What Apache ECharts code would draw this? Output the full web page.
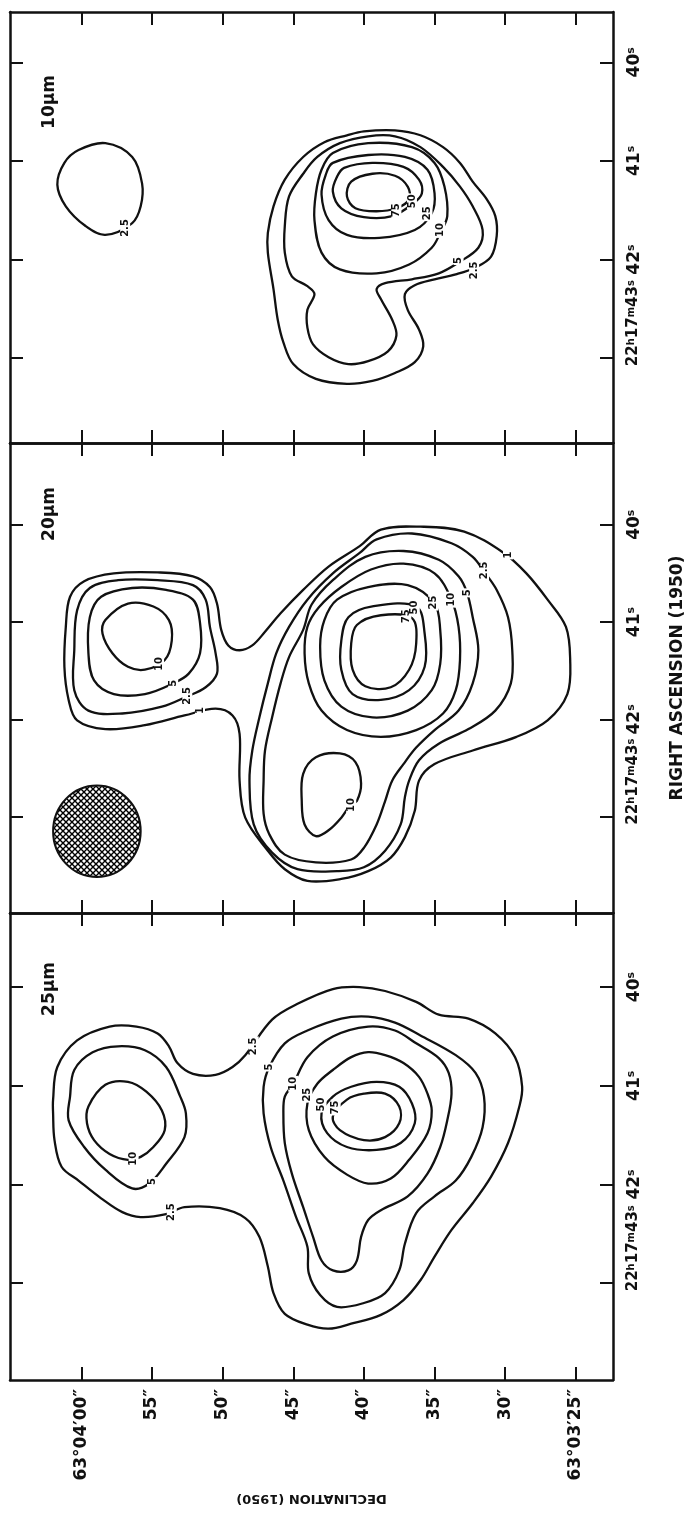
<!DOCTYPE html>
<html><head><meta charset="utf-8">
<script src="https://cdn.jsdelivr.net/npm/echarts@6/dist/echarts.min.js"></script>
<style>html,body{margin:0;padding:0;background:#fff}#c{width:689px;height:1514px}</style>
</head><body><div id="c"></div>
<script>
// ---------- axes / tick labels ----------
const decTicks = [25, 30, 35, 40, 45, 50, 55, 60];               // arcsec of 63°03'xx"
const decTickLabels = ['63°03′25″', '30″', '35″', '40″', '45″', '50″', '55″', '63°04′00″'];
const raTicks = [40, 41, 42, 43];                                 // seconds of 22h17m
const raTickLabels = ['40s', '41s', '42s', '22h17m43s'];
const panelNames = ['10μm', '20μm', '25μm'];
const decRange = [22.37, 65.05];
const raRanges = [[39.49, 43.86], [39.16, 43.99], [39.25, 43.98]];

// ---------- 10 μm contours [dec", RA s] ----------
const t_ring25 = [[58.3,40.82],[56.4,40.96],[55.7,41.23],[55.8,41.46],[56.4,41.63],[58.3,41.75],[59.7,41.66],[61.1,41.46],[61.7,41.24],[61.2,41.02],[60.2,40.89]];
const t_c25 = [[40.0,40.70],[37.8,40.69],[36.0,40.74],[34.4,40.86],[33.2,41.02],[32.3,41.21],[31.3,41.39],[30.7,41.56],[30.6,41.76],[31.0,41.97],[32.1,42.08],[33.5,42.15],[35.0,42.20],[36.4,42.26],[37.1,42.35],[36.9,42.51],[36.1,42.71],[35.8,42.88],[36.4,43.04],[37.8,43.15],[39.4,43.23],[41.2,43.26],[43.4,43.21],[45.0,43.06],[45.7,42.84],[46.1,42.61],[46.4,42.30],[46.8,41.93],[46.8,41.73],[46.4,41.46],[45.6,41.19],[44.3,40.96],[42.8,40.81],[41.2,40.74]];
const t_c5 = [[39.7,40.75],[37.8,40.75],[36.0,40.86],[34.4,41.06],[33.2,41.26],[32.3,41.46],[31.6,41.70],[31.9,41.88],[33.3,42.03],[34.7,42.14],[36.6,42.20],[38.5,42.24],[39.1,42.30],[38.8,42.40],[38.0,42.61],[37.7,42.77],[38.3,42.93],[39.7,43.03],[41.1,43.06],[42.5,42.99],[43.6,42.86],[44.0,42.69],[44.0,42.51],[43.5,42.35],[44.0,42.27],[45.1,42.17],[45.6,41.93],[45.6,41.66],[45.3,41.36],[44.3,41.13],[43.3,40.96],[41.7,40.82]];
const t_c10 = [[42.2,40.92],[39.7,40.82],[36.6,40.86],[35.0,41.02],[34.3,41.26],[34.1,41.56],[34.6,41.73],[35.2,41.88],[36.8,42.05],[39.1,42.14],[41.7,42.10],[43.0,41.93],[43.5,41.60],[43.4,41.33],[43.0,41.09]];
const t_c25b = [[42.2,41.02],[39.7,40.94],[37.1,40.96],[35.5,41.09],[35.0,41.33],[35.2,41.53],[36.4,41.70],[38.9,41.78],[41.2,41.75],[42.5,41.60],[43.0,41.34],[42.7,41.14]];
const t_c50 = [[41.4,41.07],[39.4,41.02],[37.2,41.06],[36.1,41.19],[35.9,41.33],[36.5,41.43],[38.0,41.56],[40.0,41.57],[41.6,41.48],[42.2,41.31],[41.9,41.16]];
const t_c75 = [[40.9,41.21],[39.4,41.13],[37.8,41.15],[36.9,41.26],[36.8,41.39],[37.7,41.48],[39.1,41.51],[40.6,41.48],[41.2,41.36]];
const t_labels = [['75',37.7,41.50],['50',36.6,41.41],['25',35.5,41.53],['10',34.6,41.70],['5',33.3,42.01],['2.5',32.2,42.11],['2.5',56.9,41.68]];

// ---------- 20 μm contours ----------
const m_c1 = [[50.5,41.89],[49.3,41.96],[48.8,42.15],[48.8,42.63],[48.4,43.01],[46.8,43.35],[45.6,43.54],[44.0,43.66],[41.6,43.64],[39.7,43.56],[38.1,43.42],[37.1,43.21],[36.4,42.94],[36.1,42.63],[35.0,42.46],[32.3,42.32],[29.2,42.18],[27.0,42.01],[25.6,41.74],[25.4,41.39],[25.7,41.05],[27.0,40.77],[28.5,40.50],[30.1,40.29],[32.9,40.07],[36.0,40.02],[38.8,40.05],[40.3,40.22],[42.5,40.43],[44.3,40.67],[45.9,40.91],[47.0,41.10],[47.9,41.24],[48.8,41.29],[49.6,41.24],[50.1,41.08],[50.4,40.81],[50.9,40.64],[52.1,40.53],[54.6,40.49],[57.7,40.50],[59.8,40.58],[60.8,40.74],[61.1,41.05],[61.2,41.46],[60.9,41.80],[60.3,42.01],[58.3,42.10],[55.5,42.06],[52.7,41.96]];
const m_c25 = [[31.5,40.48],[30.6,40.67],[29.8,40.95],[29.5,41.29],[29.6,41.63],[30.7,41.91],[32.6,42.10],[34.7,42.25],[36.1,42.42],[36.8,42.63],[37.1,42.80],[37.4,43.08],[38.5,43.35],[40.0,43.52],[41.9,43.56],[44.7,43.54],[46.5,43.37],[47.8,43.08],[48.1,42.63],[47.9,42.32],[47.4,41.98],[46.8,41.63],[46.2,41.32],[45.3,41.05],[44.0,40.77],[42.2,40.50],[40.3,40.29],[39.1,40.15],[36.6,40.09],[33.8,40.19],[32.3,40.33]];
const m_c5 = [[32.7,40.70],[32.3,40.95],[31.9,41.29],[32.3,41.63],[33.3,41.91],[35.0,42.11],[36.3,42.29],[37.2,42.46],[38.0,42.63],[38.5,42.84],[39.1,43.08],[40.0,43.32],[40.9,43.44],[43.4,43.47],[45.6,43.39],[46.7,43.18],[47.1,42.97],[47.1,42.63],[47.0,42.32],[46.5,41.98],[45.9,41.63],[45.3,41.36],[44.3,41.08],[43.7,40.82],[42.2,40.57],[39.9,40.33],[37.2,40.27],[34.7,40.36],[33.3,40.53]];
const m_c10 = [[33.8,40.77],[33.3,41.05],[33.2,41.39],[33.5,41.70],[34.4,41.94],[36.3,42.11],[38.8,42.18],[41.2,42.11],[43.0,41.91],[43.9,41.63],[44.2,41.32],[44.0,41.05],[43.2,40.85],[41.6,40.64],[39.5,40.46],[37.2,40.40],[35.0,40.50]];
const m_c25b = [[35.0,40.81],[34.6,41.08],[34.6,41.43],[35.2,41.70],[36.9,41.91],[39.4,41.98],[41.6,41.87],[42.8,41.60],[43.1,41.25],[42.8,40.98],[41.9,40.77],[39.7,40.64],[36.9,40.62]];
const m_c50 = [[36.3,40.84],[35.7,41.12],[35.7,41.46],[36.8,41.70],[38.8,41.80],[40.8,41.74],[41.6,41.49],[41.6,41.19],[41.1,40.95],[39.4,40.84]];
const m_c75 = [[36.6,40.96],[36.3,41.22],[36.8,41.49],[38.1,41.67],[39.9,41.66],[40.8,41.49],[40.9,41.22],[40.5,41.03],[38.8,40.93]];
const mu_c25 = [[57.4,40.57],[54.6,40.57],[52.1,40.62],[51.2,40.77],[50.9,41.05],[50.5,41.32],[50.4,41.53],[51.2,41.67],[52.6,41.77],[54.3,41.87],[57.1,41.94],[59.5,41.91],[60.5,41.70],[60.5,41.29],[60.3,40.88],[59.4,40.65]];
const mu_c5 = [[56.4,40.65],[54.0,40.67],[52.1,40.77],[51.6,41.01],[51.6,41.32],[52.4,41.53],[53.5,41.63],[55.5,41.74],[57.7,41.74],[59.1,41.60],[59.5,41.32],[59.4,40.95],[58.6,40.74]];
const mu_c10 = [[58.3,40.98],[56.7,40.81],[54.9,40.84],[53.8,40.98],[53.6,41.19],[54.1,41.39],[55.5,41.49],[56.7,41.46],[57.8,41.32],[58.5,41.12]];
const ms_c10 = [[43.4,42.39],[41.7,42.35],[40.6,42.44],[40.2,42.66],[40.5,42.84],[40.9,42.87],[41.6,43.01],[42.5,43.14],[43.4,43.20],[44.2,43.08],[44.4,42.84],[44.3,42.56]];
const m_labels = [['75',37.0,40.94],['50',36.4,40.85],['25',35.1,40.80],['10',33.8,40.77],['5',32.7,40.70],['2.5',31.5,40.47],['1',29.8,40.31],['10',54.5,41.43],['5',53.5,41.63],['2.5',52.5,41.76],['1',51.6,41.91],['10',40.9,42.88]];
const beam = [58.9, 43.15, 3.1, 0.47];   // centre dec, centre RA, half-width dec, half-height RA

// ---------- 25 μm contours ----------
const b_c25 = [[62.0,41.14],[61.7,40.81],[60.3,40.54],[58.0,40.40],[56.1,40.40],[54.6,40.47],[53.8,40.60],[53.2,40.77],[52.1,40.88],[50.5,40.89],[49.3,40.81],[48.4,40.69],[46.5,40.33],[44.7,40.17],[42.2,40.02],[40.3,40.00],[38.5,40.04],[36.3,40.15],[34.7,40.28],[32.6,40.32],[30.7,40.47],[29.3,40.71],[28.8,41.01],[29.0,41.21],[29.8,41.58],[31.0,41.92],[32.3,42.19],[33.8,42.46],[35.0,42.73],[36.0,42.97],[37.2,43.17],[38.8,43.32],[40.9,43.41],[42.5,43.46],[44.0,43.42],[45.6,43.31],[46.4,43.10],[46.8,42.83],[47.4,42.53],[48.4,42.34],[50.2,42.24],[52.7,42.23],[54.0,42.30],[55.8,42.33],[57.1,42.28],[58.6,42.14],[60.2,41.96],[61.4,41.82],[61.9,41.55],[62.0,41.28]];
const b_c5 = [[46.7,40.81],[45.6,40.57],[44.0,40.44],[41.6,40.32],[39.7,40.30],[37.8,40.36],[36.0,40.49],[33.5,40.69],[32.1,40.87],[31.5,41.11],[31.6,41.42],[32.4,41.72],[33.5,41.96],[35.0,42.12],[36.3,42.29],[37.1,42.60],[37.5,42.87],[38.5,43.10],[40.0,43.20],[41.9,43.24],[43.1,43.12],[43.9,42.90],[44.0,42.63],[44.8,42.33],[45.7,41.96],[46.6,41.62],[47.1,41.28],[47.1,41.01]];
const b_c10 = [[45.0,40.98],[44.0,40.71],[42.2,40.50],[39.7,40.40],[37.8,40.44],[36.3,40.57],[34.7,40.72],[34.0,40.87],[33.8,41.08],[34.1,41.35],[34.6,41.62],[35.5,41.89],[36.9,42.12],[38.8,42.26],[39.7,42.36],[40.2,42.53],[40.5,42.77],[41.1,42.87],[42.2,42.87],[43.0,42.77],[43.6,42.53],[44.3,42.23],[45.1,41.89],[45.6,41.58],[45.7,41.28],[45.6,41.11]];
const b_c25b = [[43.3,40.98],[42.2,40.84],[40.9,40.71],[39.7,40.66],[38.5,40.69],[37.2,40.77],[36.1,40.91],[35.5,41.08],[35.2,41.25],[35.5,41.48],[36.8,41.75],[38.1,41.94],[39.7,41.99],[41.2,41.90],[42.8,41.72],[43.9,41.45],[44.0,41.18]];
const b_c50 = [[42.2,41.11],[40.9,41.01],[39.1,40.96],[37.5,41.01],[36.6,41.18],[36.4,41.38],[37.4,41.58],[39.1,41.65],[41.2,41.62],[42.6,41.48],[43.0,41.28]];
const b_c75 = [[41.2,41.14],[40.0,41.08],[38.5,41.08],[37.5,41.21],[37.5,41.38],[38.5,41.52],[40.0,41.55],[41.7,41.45],[42.2,41.31]];
const bu_c10 = [[59.5,41.21],[58.3,40.99],[56.7,40.96],[55.4,41.06],[54.3,41.25],[54.1,41.45],[54.9,41.62],[55.8,41.72],[56.7,41.75],[58.0,41.69],[59.1,41.55],[59.6,41.38]];
const bu_c5 = [[60.8,41.11],[60.9,41.35],[59.8,41.62],[58.3,41.85],[56.4,42.04],[55.2,41.99],[54.0,41.79],[52.7,41.52],[52.6,41.28],[53.0,41.11],[54.0,40.81],[55.5,40.64],[57.4,40.60],[59.2,40.66],[60.5,40.84]];
const b_labels = [['2.5',47.8,40.60],['5',46.7,40.81],['10',45.0,40.98],['25',44.0,41.09],['50',43.0,41.19],['75',42.0,41.22],['10',56.3,41.74],['5',55.0,41.97],['2.5',53.6,42.28]];

const panelContours = [
  [t_ring25, t_c25, t_c5, t_c10, t_c25b, t_c50, t_c75],
  [m_c1, m_c25, m_c5, m_c10, m_c25b, m_c50, m_c75, mu_c25, mu_c5, mu_c10, ms_c10],
  [b_c25, b_c5, b_c10, b_c25b, b_c50, b_c75, bu_c10, bu_c5]
];
const panelLabels = [t_labels, m_labels, b_labels];

// ---------- build ----------
const FONT = '"DejaVu Sans", sans-serif';
const INK = '#111';
const grids = [
  {left: 10, top: 12, width: 603, height: 431},
  {left: 10, top: 443, width: 603, height: 470},
  {left: 10, top: 913, width: 603, height: 467}
].map(g => Object.assign(g, {containLabel: false, outerBoundsMode: 'none'}));

function hatchCanvas() {
  const c = document.createElement('canvas'); c.width = 6; c.height = 6;
  const x = c.getContext('2d');
  x.fillStyle = '#fff'; x.fillRect(0, 0, 6, 6);
  x.strokeStyle = '#000'; x.lineWidth = 1.4;
  x.beginPath(); x.moveTo(-1, -1); x.lineTo(7, 7); x.moveTo(7, -1); x.lineTo(-1, 7); x.stroke();
  return c;
}
const hatch = hatchCanvas();

function raRich(i, nTag, sTag) {
  return raTickLabels[i].replace(/(\d+)|([hms])/g, (m, d, l) => d ? '{' + nTag + '|' + d + '}' : '{' + sTag + '|' + l + '}');
}
function raFmtMain(v) {
  const i = raTicks.indexOf(Math.round(v));
  return (i < 0 || i === raTicks.length - 1) ? '' : raRich(i, 'n', 's');
}
function raFmtLast(v) {
  const i = raTicks.indexOf(Math.round(v));
  return i === raTicks.length - 1 ? '{p|.}' + raRich(i, 'N', 'S') : '';
}
function decFmt(v) {
  const i = decTicks.indexOf(Math.round(v));
  return i < 0 ? '' : decTickLabels[i];
}
const raRichStyles = {
  n: {fontFamily: FONT, fontWeight: 'bold', fontSize: 17, color: INK},
  s: {fontFamily: FONT, fontWeight: 'bold', fontSize: 11, color: INK, verticalAlign: 'top'},
  N: {fontFamily: FONT, fontWeight: 'bold', fontSize: 15, color: INK},
  S: {fontFamily: FONT, fontWeight: 'bold', fontSize: 10, color: INK, verticalAlign: 'top'},
  p: {width: 70, fontSize: 15, color: 'rgba(0,0,0,0)'}
};

const lineStyle = {color: INK, width: 2.5};
const tickStyle = {color: INK, width: 2};
const xAxis = [], yAxis = [];
for (let i = 0; i < 3; i++) {
  const xBase = {
    type: 'value', gridIndex: i, min: decRange[0], max: decRange[1], inverse: true,
    splitLine: {show: false},
    axisLine: {show: true, onZero: false, lineStyle: lineStyle},
    axisTick: {show: true, inside: true, length: 13, customValues: decTicks, lineStyle: tickStyle}
  };
  xAxis.push(Object.assign({}, xBase, {
    position: 'bottom',
    axisLabel: i === 2 ? {show: true, customValues: decTicks, rotate: 90, margin: 9, formatter: decFmt,
      hideOverlap: false, showMinLabel: true, showMaxLabel: true,
      color: INK, fontFamily: FONT, fontWeight: 'bold', fontSize: 17} : {show: false},
    name: i === 2 ? 'DECLINATION (1950)' : '', nameLocation: 'middle', nameRotate: 180, nameGap: 112,
    nameTextStyle: {color: INK, fontFamily: FONT, fontWeight: 'bold', fontSize: 13}
  }));
  xAxis.push(Object.assign({}, xBase, {position: 'top', axisLabel: {show: false}}));
  const yBase = {
    type: 'value', gridIndex: i, min: raRanges[i][0], max: raRanges[i][1], inverse: true,
    splitLine: {show: false},
    axisLine: {show: true, onZero: false, lineStyle: lineStyle},
    axisTick: {show: true, inside: true, length: 13, customValues: raTicks, lineStyle: tickStyle}
  };
  // 3 y axes per grid: left frame, right frame with 40-42 labels, right labels-only for 43
  yAxis.push(Object.assign({}, yBase, {position: 'left', axisLabel: {show: false}}));
  yAxis.push(Object.assign({}, yBase, {
    position: 'right',
    axisLabel: {show: true, customValues: raTicks, rotate: 90, margin: 13, formatter: raFmtMain,
      hideOverlap: false, showMinLabel: true, showMaxLabel: true, rich: raRichStyles},
    name: i === 1 ? 'RIGHT ASCENSION (1950)' : '', nameLocation: 'middle', nameRotate: 90, nameGap: 56,
    nameTextStyle: {color: INK, fontFamily: FONT, fontWeight: 'bold', fontSize: 17}
  }));
  yAxis.push(Object.assign({}, yBase, {
    position: 'right', offset: 0,
    axisLine: {show: false}, axisTick: {show: false},
    axisLabel: {show: true, customValues: [raTicks[raTicks.length - 1]], rotate: 90, margin: 13,
      formatter: raFmtLast, hideOverlap: false, showMinLabel: true, showMaxLabel: true, rich: raRichStyles}
  }));
}

const series = [];
panelContours.forEach((list, gi) => {
  series.push({
    type: 'custom', coordinateSystem: 'cartesian2d', xAxisIndex: 2 * gi, yAxisIndex: 3 * gi,
    silent: true, clip: false, z: 3,
    data: list.map((c, i) => [c[0][0], c[0][1], i]),
    renderItem: function (params, api) {
      const pts = list[params.dataIndex].map(p => api.coord(p));
      return {type: 'polygon', shape: {points: pts, smooth: 0.35},
        style: {fill: 'none', stroke: INK, lineWidth: 2.3}};
    }
  });
});
panelLabels.forEach((list, gi) => {
  series.push({
    type: 'custom', coordinateSystem: 'cartesian2d', xAxisIndex: 2 * gi, yAxisIndex: 3 * gi,
    silent: true, clip: false, z: 6,
    data: list.map((l, i) => [l[1], l[2], i]),
    renderItem: function (params, api) {
      const l = list[params.dataIndex];
      const p = api.coord([l[1], l[2]]);
      return {type: 'text', x: p[0], y: p[1], rotation: Math.PI / 2,
        style: {text: l[0], font: 'bold 10px ' + FONT, fill: INK, align: 'center', verticalAlign: 'middle',
          backgroundColor: '#fff', padding: [0, 1]}};
    }
  });
});
series.push({
  type: 'custom', coordinateSystem: 'cartesian2d', xAxisIndex: 2, yAxisIndex: 3,
  silent: true, clip: false, z: 4,
  data: [[beam[0], beam[1]]],
  renderItem: function (params, api) {
    const c = api.coord([beam[0], beam[1]]);
    const s = api.size([beam[2], beam[3]]);
    return {type: 'ellipse', shape: {cx: c[0], cy: c[1], rx: s[0], ry: s[1]},
      style: {fill: {image: hatch, repeat: 'repeat'}, stroke: INK, lineWidth: 2}};
  }
});

const chart = echarts.init(document.getElementById('c'), null, {renderer: 'canvas'});
chart.setOption({
  animation: false,
  backgroundColor: '#fff',
  grid: grids,
  xAxis: xAxis,
  yAxis: yAxis,
  series: series,
  graphic: panelNames.map((t, i) => ({
    type: 'text', x: 50, y: [102, 514, 989][i], rotation: Math.PI / 2, z: 10,
    style: {text: t, font: 'bold 17px ' + FONT, fill: INK, align: 'center', verticalAlign: 'middle'}
  }))
});
</script>
</body></html>
